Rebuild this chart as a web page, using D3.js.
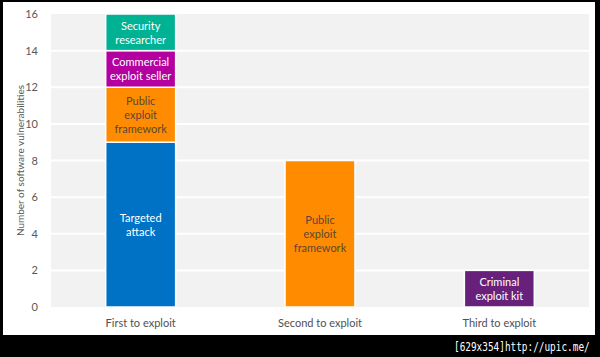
<!DOCTYPE html>
<html>
<head>
<meta charset="utf-8">
<script src="https://cdn.jsdelivr.net/npm/d3@7"></script>
<style>
  html, body { margin: 0; padding: 0; background: #000; }
  svg { display: block; }
</style>
</head>
<body>
<svg id="chart" width="600" height="357"></svg>
<script>
// ---- Data ----
const categories = ["First to exploit", "Second to exploit", "Third to exploit"];
const segmentCategory = [0, 0, 0, 0, 1, 2];
const segmentTypes = ["Targeted attack", "Public exploit framework", "Commercial exploit seller", "Security researcher", "Public exploit framework", "Criminal exploit kit"];
const segmentValues = [9, 3, 2, 2, 8, 2];
const segmentLines = [
  ["Targeted", "attack"],
  ["Public", "exploit", "framework"],
  ["Commercial", "exploit seller"],
  ["Security", "researcher"],
  ["Public", "exploit", "framework"],
  ["Criminal", "exploit kit"]
];
const yTicks = [0, 2, 4, 6, 8, 10, 12, 14, 16];
const yTitle = "Number of software vulnerabilities";
const watermark = "[629x354]http://upic.me/";

// ---- Styles ----
const typeNames = ["Targeted attack", "Public exploit framework", "Commercial exploit seller", "Security researcher", "Criminal exploit kit"];
const typeColors = ["#0072c6", "#ff8c00", "#b4009e", "#00b294", "#68217a"];
const typeTextColors = ["#ffffff", "#5b4634", "#ffffff", "#ffffff", "#ffffff"];

const svg = d3.select("#chart");
const W = 600, H = 357;
const margin = { left: 51, right: 11, top: 14, bottom: 50 };

// frame
svg.append("rect").attr("x", 0).attr("y", 0).attr("width", W).attr("height", H).attr("fill", "#000");
svg.append("rect").attr("x", 3).attr("y", 2).attr("width", 592).attr("height", 333).attr("fill", "#fff");

const x = d3.scaleBand()
  .domain(categories)
  .range([margin.left, W - margin.right])
  .paddingInner(0.61)
  .paddingOuter(0.305);

const y = d3.scaleLinear()
  .domain([0, 16])
  .range([H - margin.bottom, margin.top]);

const color = d3.scaleOrdinal().domain(typeNames).range(typeColors);
const textColor = d3.scaleOrdinal().domain(typeNames).range(typeTextColors);

// plot background
svg.append("rect")
  .attr("x", margin.left).attr("y", y(16))
  .attr("width", (W - margin.right) - margin.left)
  .attr("height", y(0) - y(16))
  .attr("fill", "#f2f2f2");

// gridlines
svg.append("g").selectAll("line")
  .data(yTicks.filter(t => t > 0 && t < 16))
  .join("line")
  .attr("x1", margin.left).attr("x2", W - margin.right)
  .attr("y1", d => y(d)).attr("y2", d => y(d))
  .attr("stroke", "#ffffff").attr("stroke-width", 2);

// y axis labels
const yAxis = d3.axisLeft(y).tickValues(yTicks).tickSize(0).tickPadding(13);
const gy = svg.append("g").attr("transform", `translate(${margin.left},0)`).call(yAxis);
gy.select(".domain").remove();
gy.selectAll("text")
  .attr("fill", "#595959")
  .style("font-family", "Lato, 'Open Sans', sans-serif")
  .style("font-size", "11px");

// y title
svg.append("text")
  .attr("transform", `translate(20,${(y(0) + y(16)) / 2}) rotate(-90)`)
  .attr("text-anchor", "middle")
  .attr("dominant-baseline", "central")
  .attr("fill", "#595959")
  .style("font-family", "Lato, 'Open Sans', sans-serif")
  .style("font-size", "10px")
  .text(yTitle);

// stacked segments
const segs = [];
const cum = categories.map(() => 0);
segmentValues.forEach((v, i) => {
  const c = segmentCategory[i];
  segs.push({ cat: categories[c], y0: cum[c], y1: cum[c] + v, type: segmentTypes[i], lines: segmentLines[i] });
  cum[c] += v;
});

const g = svg.append("g");
g.selectAll("rect")
  .data(segs)
  .join("rect")
  .attr("x", d => x(d.cat))
  .attr("y", d => y(d.y1))
  .attr("width", x.bandwidth())
  .attr("height", d => y(d.y0) - y(d.y1))
  .attr("fill", d => color(d.type))
  .attr("stroke", "#ffffff")
  .attr("stroke-width", 1.5);

const lineH = 14;
const labels = svg.append("g").selectAll("text")
  .data(segs)
  .join("text")
  .attr("text-anchor", "middle")
  .attr("fill", d => textColor(d.type))
  .style("font-family", "Lato, 'Open Sans', sans-serif")
  .style("font-size", "11px");
labels.each(function(d) {
  const cx = x(d.cat) + x.bandwidth() / 2;
  const cy = (y(d.y0) + y(d.y1)) / 2;
  const n = d.lines.length;
  d3.select(this).selectAll("tspan")
    .data(d.lines)
    .join("tspan")
    .attr("x", cx)
    .attr("y", (l, i) => cy + (i - (n - 1) / 2) * lineH)
    .attr("dominant-baseline", "central")
    .text(l => l);
});

// x axis labels
const xAxis = d3.axisBottom(x).tickSize(0).tickPadding(12);
const gx = svg.append("g").attr("transform", `translate(0,${y(0)})`).call(xAxis);
gx.select(".domain").remove();
gx.selectAll("text")
  .attr("fill", "#505050")
  .style("font-family", "Lato, 'Open Sans', sans-serif")
  .style("font-size", "11px");

// watermark (narrow monospace, stretched vertically)
svg.append("text")
  .attr("transform", "translate(454,351) scale(1,1.3)")
  .attr("fill", "#ffffff")
  .style("font-family", "'DejaVu Sans Mono', monospace")
  .style("font-size", "9.4px")
  .text(watermark);
</script>
</body>
</html>
